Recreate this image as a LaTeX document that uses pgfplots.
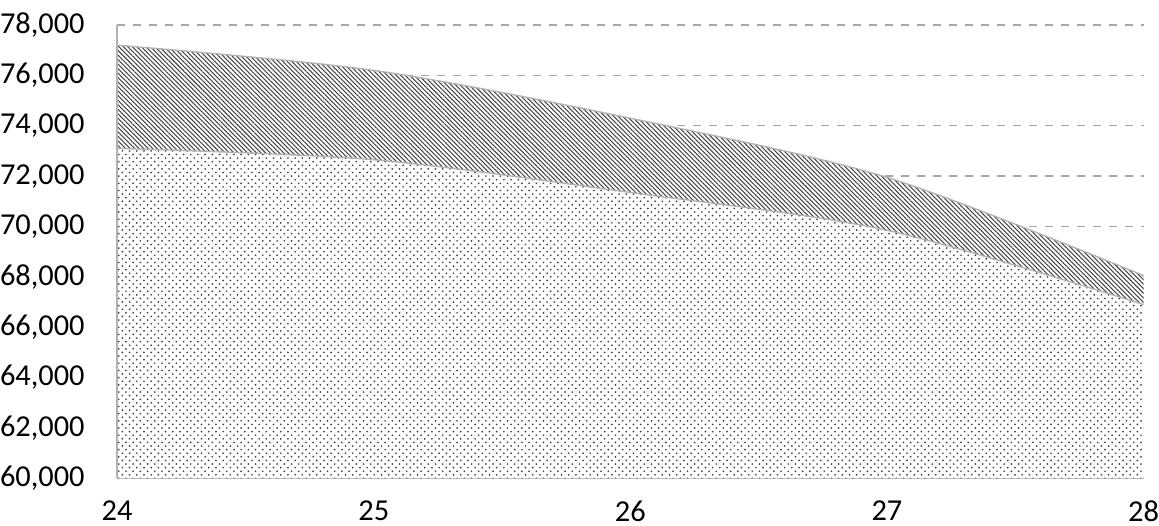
\documentclass[border=0pt]{standalone}
\usepackage{fontspec}
\setmainfont{Carlito}
\usepackage{pgfplots}
\pgfplotsset{compat=1.18}
\usepgfplotslibrary{fillbetween}
\usetikzlibrary{patterns.meta}

\begin{document}
\begin{tikzpicture}
\begin{axis}[
    scale only axis, width=385pt, height=170pt,
    xmin=24, xmax=28, ymin=60000, ymax=78000,
    xtick={24,25,26,27,28},
    ytick={60000,62000,...,78000},
    axis lines*=left,
    axis line style={gray!70, line width=0.8pt},
    ymajorgrids, grid style={dashed, gray!70, line width=0.5pt},
    major tick length=0pt,
    tick label style={font=\fontsize{11.4}{13}\selectfont, inner sep=0pt},
    /pgf/number format/assume math mode=true,
    scaled y ticks=false,
    yticklabel style={/pgf/number format/1000 sep={,}, xshift=-12pt},
    xticklabel style={yshift=-8.2pt},
    clip=false,
]
    % lower series
    \addplot[name path=lower, draw=gray!60, line width=0.5pt, smooth] coordinates {
        (24, 73100) (25, 72650) (26, 71350) (27, 69850) (28, 66900)
    };
    % upper series (cumulative)
    \addplot[name path=upper, draw=gray!60, line width=0.5pt, smooth] coordinates {
        (24, 77200) (25, 76200) (26, 74300) (27, 71950) (28, 68050)
    };
    \addplot[name path=base, draw=none] coordinates {(24, 60000) (28, 60000)};

    \addplot[fill=white] fill between[of=lower and base];
    \addplot[pattern={Dots[radius=0.36pt, distance=2.7pt]}, pattern color=black!75] fill between[of=lower and base];
    \addplot[pattern={Dots[radius=0.36pt, distance=2.7pt, xshift=1.35pt, yshift=1.35pt]}, pattern color=black!75] fill between[of=lower and base];

    \addplot[fill=white] fill between[of=upper and lower];
    \addplot[pattern={Lines[angle=-45, distance=1.2pt, line width=0.4pt]}, pattern color=black!72] fill between[of=upper and lower];

    \draw[gray!60, line width=0.5pt] (axis cs:24,60000) -- (axis cs:24,78000);
\end{axis}
\path ([yshift=9.4pt]current axis.north west);
\path ([shift={(-43.5pt,-17.6pt)}]current axis.south west);
\end{tikzpicture}
\end{document}
